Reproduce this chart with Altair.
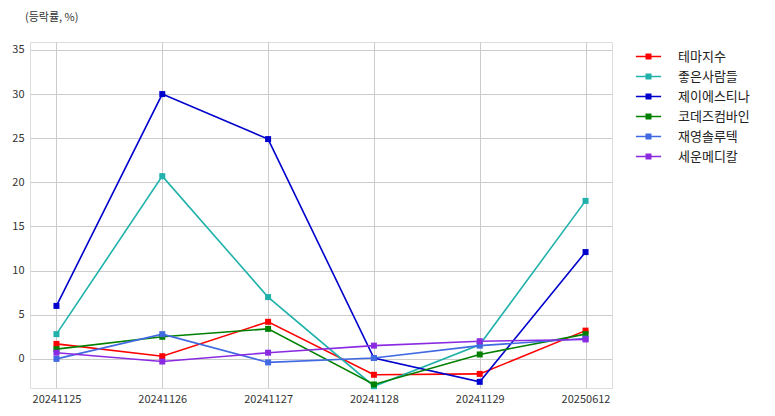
import altair as alt
import pandas as pd

dates = ["20241125", "20241126", "20241127", "20241128", "20241129", "20250612"]
series = ["테마지수", "좋은사람들", "제이에스티나", "코데즈컴바인", "재영솔루텍", "세운메디칼"]
colors = ["#ff0000", "#20b2aa", "#0000cd", "#008000", "#4169e1", "#8a2be2"]

v_theme = [1.7, 0.3, 4.2, -1.8, -1.7, 3.2]
v_good = [2.8, 20.7, 7.0, -3.1, 1.6, 17.9]
v_jestina = [6.0, 30.0, 24.9, 0.1, -2.6, 12.1]
v_codes = [1.1, 2.5, 3.4, -2.9, 0.5, 2.8]
v_young = [0.0, 2.8, -0.4, 0.1, 1.5, 2.3]
v_seoun = [0.7, -0.3, 0.7, 1.5, 2.0, 2.2]

values = [v_theme, v_good, v_jestina, v_codes, v_young, v_seoun]
rows = []
for s, vals in zip(series, values):
    for d, v in zip(dates, vals):
        rows.append({"date": d, "series": s, "value": v})
df = pd.DataFrame(rows)

FONT = "Noto Sans CJK KR"

color = alt.Color(
    "series:N",
    scale=alt.Scale(domain=series, range=colors),
    sort=series,
    legend=alt.Legend(
        title=None,
        orient="none",
        legendX=612,
        legendY=8,
        symbolType="M-4.2,0H4.2M-0.75,-0.75H0.75V0.75H-0.75Z",
        symbolSize=36,
        symbolStrokeWidth=1.5,
        labelFontSize=13,
        labelFont=FONT,
        labelColor="#222",
        labelOffset=23,
        rowPadding=6,
    ),
)

x = alt.X(
    "date:O",
    sort=dates,
    scale=alt.Scale(padding=0.25),
    axis=alt.Axis(title=None, labelAngle=0, ticks=False, domain=False,
                  labelFontSize=11, labelFont=FONT, labelColor="#333",
                  labelPadding=5, gridColor="#cccccc", grid=True),
)
y = alt.Y(
    "value:Q",
    scale=alt.Scale(domain=[-3.3, 35.9], nice=False, zero=False),
    axis=alt.Axis(title=None, values=[0, 5, 10, 15, 20, 25, 30, 35], ticks=False,
                  domain=False, labelFontSize=11, labelFont=FONT, labelColor="#333",
                  labelPadding=6, gridColor="#cccccc"),
)

base = alt.Chart(df).encode(x=x, y=y, color=color, order=alt.Order("date:O"))
lines = base.mark_line(strokeWidth=1.6)
points = base.mark_point(shape="square", filled=True, size=36, opacity=1)

chart = (
    alt.layer(lines, points)
    .properties(
        width=582,
        height=346,
        autosize=alt.AutoSizeParams(type="none"),
        padding={"left": 22, "top": 34, "right": 155, "bottom": 20},
        title=alt.TitleParams("(등락률, %)", anchor="start", frame="group", fontSize=11,
                              font=FONT, fontWeight="normal", color="#333", dx=-5,
                              offset=19),
    )
    .configure_view(stroke="#cccccc", strokeWidth=1)
    .configure(background="white")
)

chart.save("out.html", embed_options={"renderer": "svg", "actions": False})
